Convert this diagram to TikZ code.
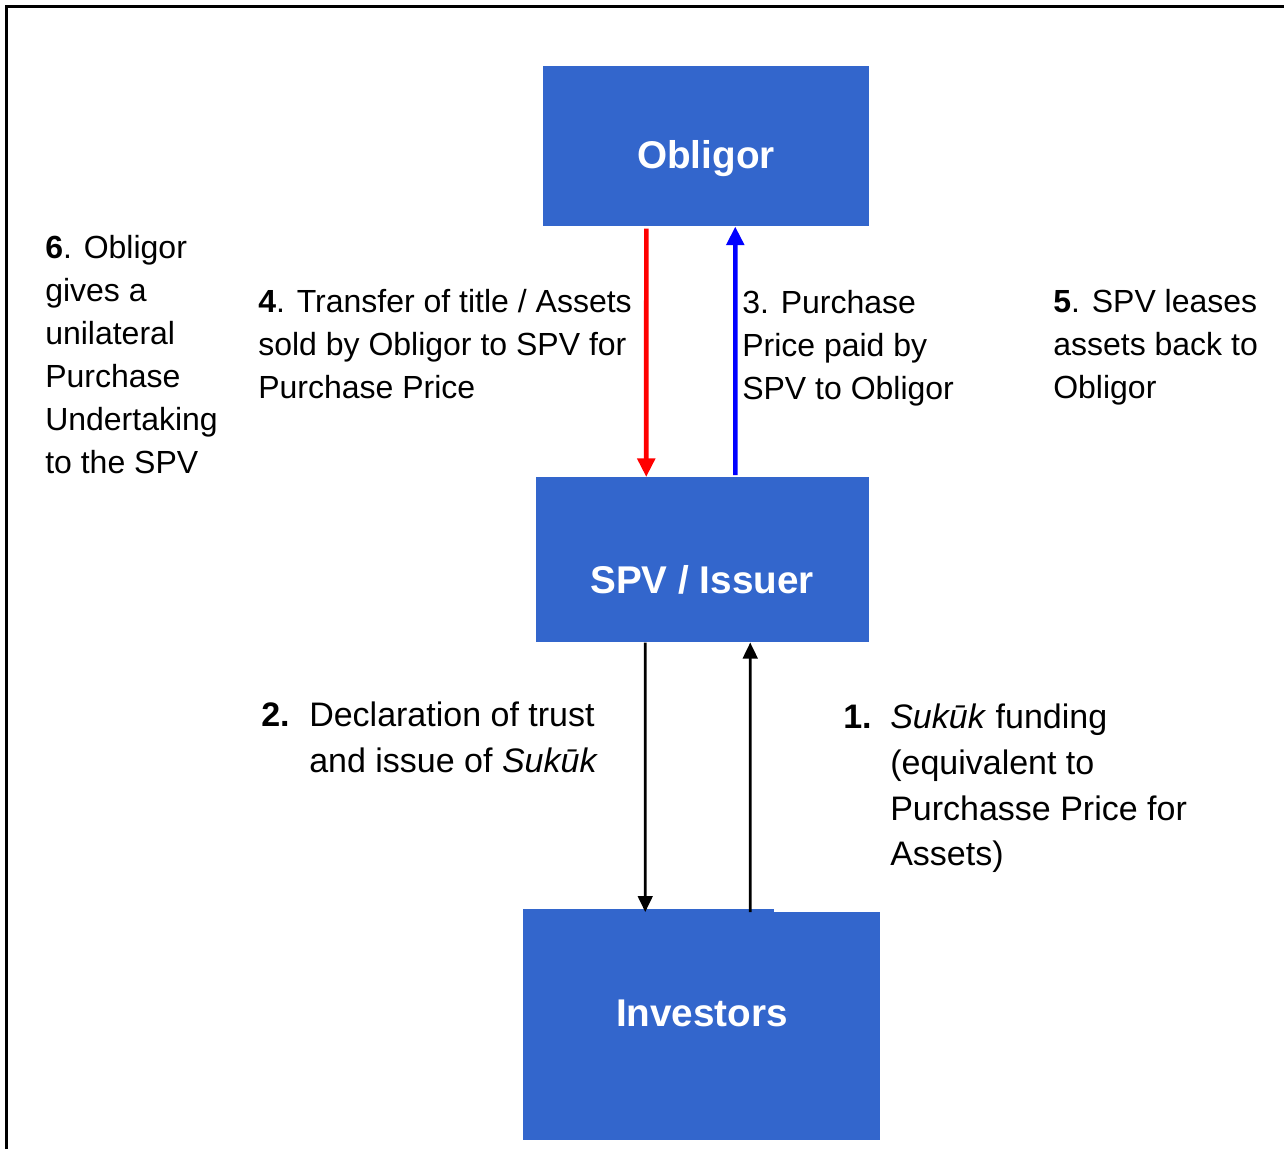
\documentclass[tikz,border=0pt]{standalone}
\usepackage{fontspec}
\setmainfont{Liberation Sans}
\usetikzlibrary{arrows.meta}
\definecolor{boxblue}{HTML}{3366CC}
\definecolor{sellred}{HTML}{FF0000}
\definecolor{paidblue}{HTML}{0000FF}
\begin{document}
\begin{tikzpicture}[x=0.75pt,y=-0.75pt,
  party/.style={fill=boxblue, draw=none, inner sep=0pt, anchor=north west},
  partyname/.style={text=white, inner sep=0pt, anchor=base,
    font=\fontsize{29}{34}\selectfont\bfseries},
  note/.style={anchor=north west, inner sep=0pt, align=left,
    font=\fontsize{24}{32.25}\selectfont},
  bignote/.style={anchor=north west, inner sep=0pt, align=left,
    font=\fontsize{25.5}{34.2}\selectfont},
  flow/.style={line width=3.4pt, shorten <=1.5pt,
    -{Triangle[width=13pt,length=14pt]}},
  cash/.style={line width=2pt, -{Triangle[width=11pt,length=12pt]}},
]
\useasboundingbox (0,0) rectangle (1284,1149);

% frame
\draw[line width=2.6pt] (6.5,1149) -- (6.5,6.5) -- (1284,6.5);

% parties
\node[party, minimum width=244.5pt, minimum height=120pt] (obligor) at (543,66) {};
\node[party, minimum width=249.75pt, minimum height=123.75pt] (spv) at (536,477) {};
\node[party, minimum width=267.75pt, minimum height=171pt] (investors) at (523,912) {};
\fill[boxblue] (523,909) rectangle (774,912);

\node[partyname] (obligorname) at (706,168) {Obligor};
\node[partyname] (spvname) at (702,593) {SPV / Issuer};
\node[partyname] (investorsname) at (702,1026) {Investors};

% flows between Obligor and SPV
\draw[flow, sellred] ([xshift=-45pt]obligor.south) -- ([xshift=-42.4pt]spv.north);
\draw[flow, paidblue] ([xshift=24.4pt]spv.north) -- ([xshift=21.75pt]obligor.south);

% flows between SPV and Investors
\draw[cash] ([xshift=-43.1pt]spv.south) -- ([xshift=-42.4pt]investors.north);
\draw[cash] ([xshift=36.4pt]investors.north) -- ([xshift=35.6pt]spv.south);

% step labels
\node[note] (step6) at (45,235) {\textbf{6}. Obligor\\gives a\\unilateral\\Purchase\\Undertaking\\to the SPV};
\node[note] (step4) at (258,289) {\textbf{4}. Transfer of title / Assets\\sold by Obligor to SPV for\\Purchase Price};
\node[note] (step3) at (742,290) {3. Purchase\\Price paid by\\SPV to Obligor};
\node[note] (step5) at (1053,289) {\textbf{5}. SPV leases\\assets back to\\Obligor};

\node[bignote] (step2) at (261,702) {\makebox[36pt][l]{\textbf{2.}}Declaration of trust\\\hspace*{36pt}and issue of \textit{Sukūk}};
\node[bignote] (step1) at (843,704) {\makebox[35.25pt][l]{\textbf{1.}}\textit{Sukūk} funding\\\hspace*{35.25pt}(equivalent to\\\hspace*{35.25pt}Purchasse Price for\\\hspace*{35.25pt}Assets)};
\end{tikzpicture}
\end{document}
